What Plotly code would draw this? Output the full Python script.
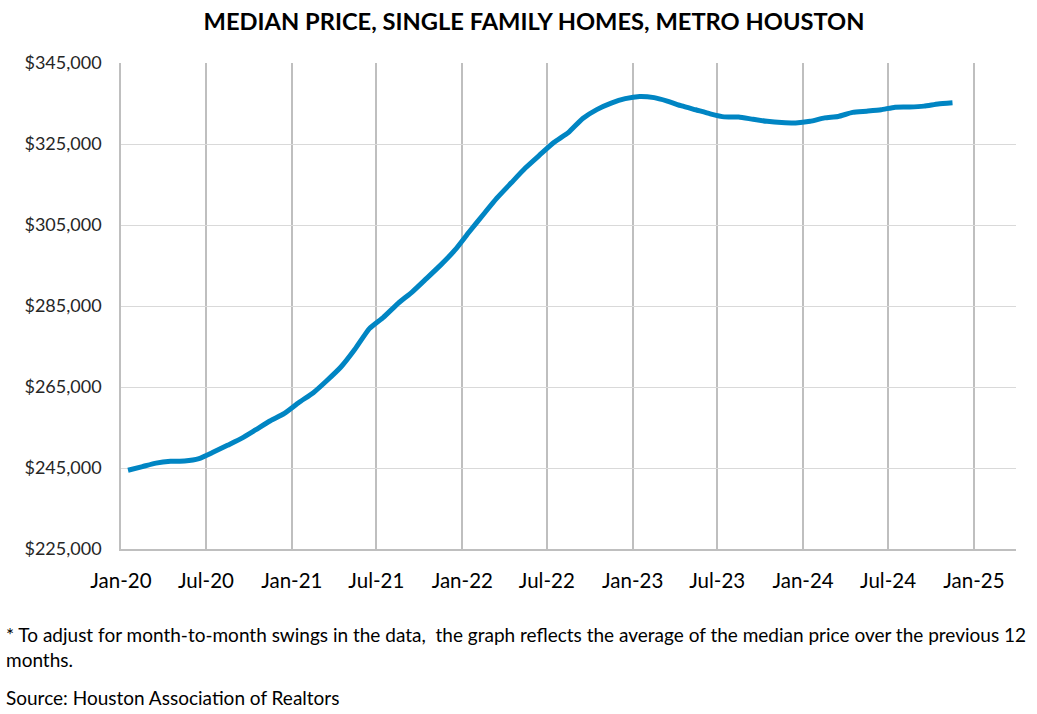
import pandas as pd
import plotly.graph_objects as go

# Monthly 12-month average median price, Jan 2020 .. Nov 2024
months = pd.date_range("2020-01-01", "2024-11-01", freq="MS")
prices = [
    244450, 245350, 246200, 246660, 246730, 247330, 248870, 250610, 252380, 254480, 256660, 258480,
    261170, 263600, 266480, 269940, 274320, 279420, 282200, 285600, 288500, 291750, 295150, 298770,
    303340, 307720, 311630, 315420, 319060, 322300, 325350, 327800, 331300, 333500, 335100, 336200,
    336750, 336450, 335600, 334400, 333450, 332450, 331700, 331670, 331100, 330600, 330300, 330200,
    330600, 331450, 331800, 332800, 333100, 333450, 334100, 334140, 334350, 334900, 335200,
]
x_dates = months + pd.Timedelta(days=15)

title_text = "MEDIAN PRICE, SINGLE FAMILY HOMES, METRO HOUSTON"
note_text = ("* To adjust for month-to-month swings in the data,  the graph reflects the average "
             "of the median price over the previous 12")
note_text2 = "months."
source_text = "Source: Houston Association of Realtors"

FONT = "Lato, 'Open Sans', sans-serif"

fig = go.Figure()
fig.add_trace(go.Scatter(
    x=x_dates, y=prices, mode="lines",
    line=dict(color="#0085C3", width=5, shape="spline", smoothing=0.5),
    hoverinfo="skip",
))

W, H = 1037, 714
L, R, T, B = 121, 21, 63, 165
pw, ph = W - L - R, H - T - B

def px(xp):
    return (xp - L) / pw

def py(yp):
    return (H - B - yp) / ph

fig.update_layout(
    width=W, height=H,
    margin=dict(l=L, r=R, t=T, b=B, pad=0),
    paper_bgcolor="white", plot_bgcolor="white",
    showlegend=False,
    font=dict(family=FONT, color="#262626"),
    title=dict(text="<b>" + title_text + "</b>", x=534 / W, xanchor="center",
               y=1 - 22 / H, yanchor="middle", yref="container", xref="container",
               font=dict(family=FONT, size=23.7, color="#000000")),
    xaxis=dict(
        type="date",
        range=["2020-01-01", "2025-04-01"],
        tick0="2020-01-01", dtick="M6", tickformat="%b-%y",
        showgrid=True, gridcolor="#bfbfbf", gridwidth=1.5,
        showline=True, linecolor="#bfbfbf", linewidth=1.5,
        zeroline=False, ticks="", ticklabelstandoff=13,
        tickfont=dict(family=FONT, size=20.5, color="#000000"),
    ),
    yaxis=dict(
        range=[225000, 345000], dtick=20000, tick0=225000,
        tickformat="$,.0f",
        showgrid=True, gridcolor="#d9d9d9", gridwidth=1.3,
        showline=True, linecolor="#bfbfbf", linewidth=1.5,
        zeroline=False, ticks="", ticklabelstandoff=14,
        tickfont=dict(family=FONT, size=18, color="#262626"),
    ),
    annotations=[
        dict(text=note_text, xref="paper", yref="paper", x=px(4), y=py(634),
             xanchor="left", yanchor="middle", showarrow=False,
             font=dict(family=FONT, size=19, color="#000000")),
        dict(text=note_text2, xref="paper", yref="paper", x=px(4), y=py(659),
             xanchor="left", yanchor="middle", showarrow=False,
             font=dict(family=FONT, size=19, color="#000000")),
        dict(text=source_text, xref="paper", yref="paper", x=px(4), y=py(698),
             xanchor="left", yanchor="middle", showarrow=False,
             font=dict(family=FONT, size=19, color="#000000")),
    ],
)

fig.write_html("out.html")
